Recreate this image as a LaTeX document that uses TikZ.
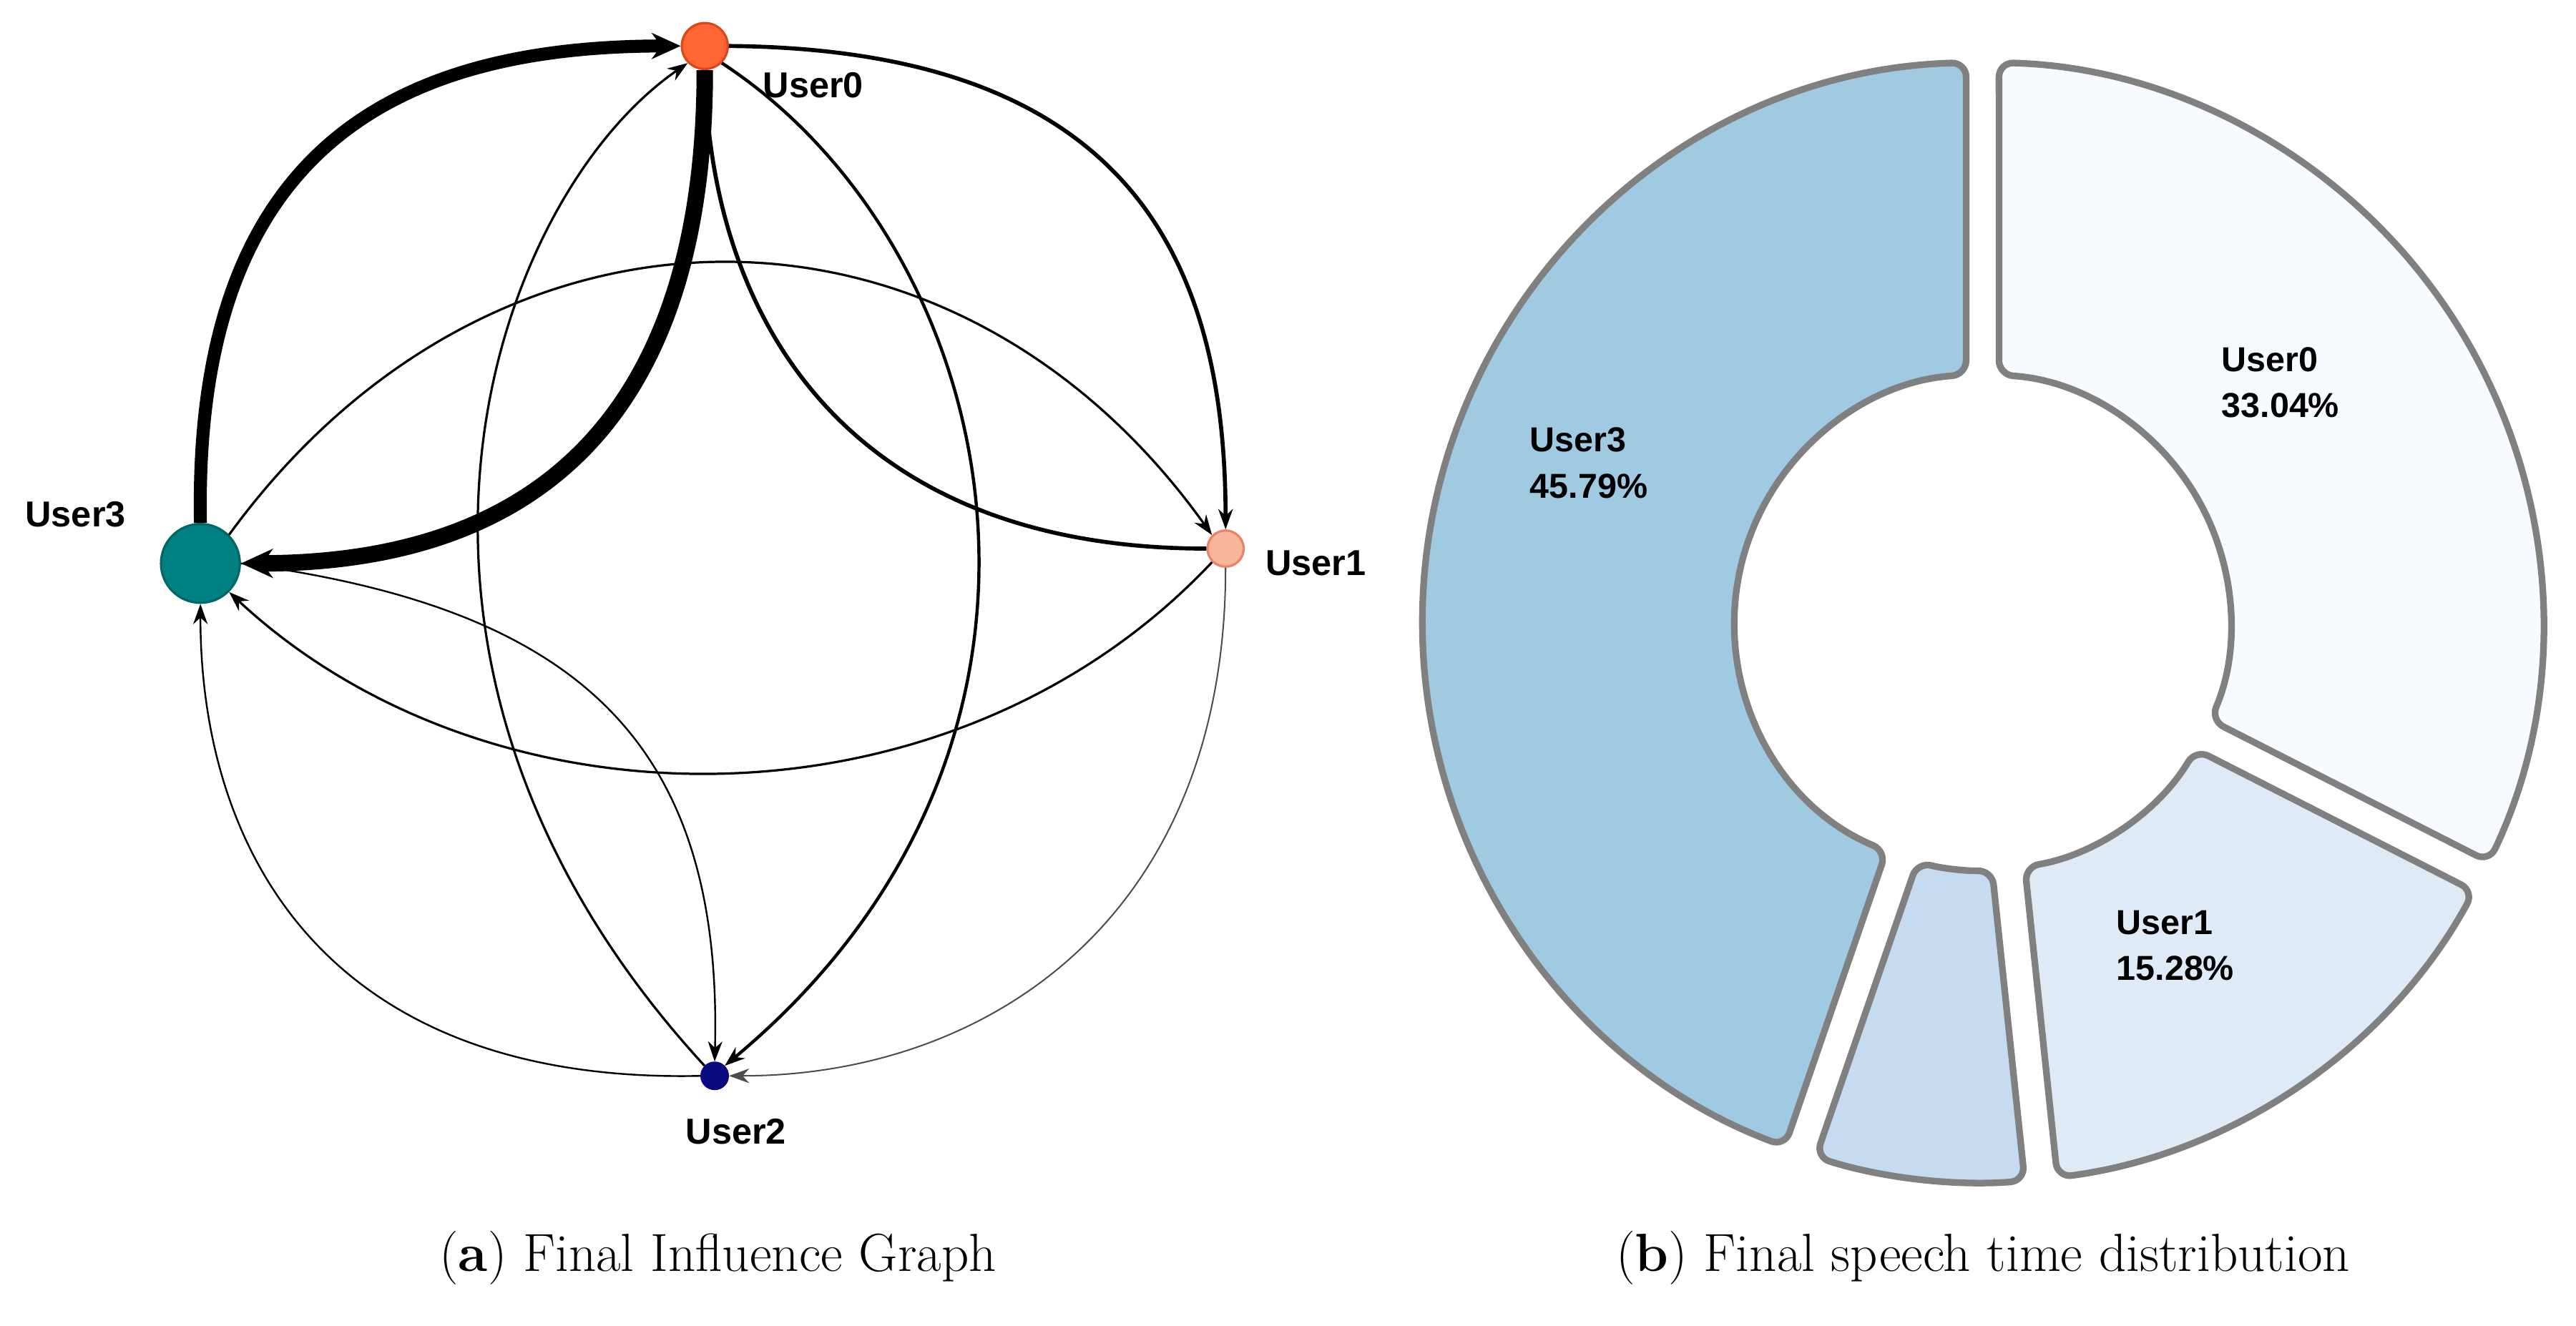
\documentclass[tikz,border=0pt]{standalone}
\usepackage{fontspec}
\newfontfamily\lab{Liberation Sans}
\usetikzlibrary{arrows.meta}
\definecolor{cU0}{HTML}{FF6633}
\definecolor{cU0d}{HTML}{D9481A}
\definecolor{cU3}{HTML}{008080}
\definecolor{cU1}{HTML}{F9B49C}
\definecolor{cU1d}{HTML}{E8826A}
\definecolor{cU2}{HTML}{0A0A80}
\definecolor{sA}{HTML}{9FCAE1}
\definecolor{sB}{HTML}{C6DBEF}
\definecolor{sC}{HTML}{DEEBF7}
\definecolor{sD}{HTML}{F7FBFF}
\newcommand\donutseg[3]{%
  \draw[line width=2.3pt, draw=black!50, fill=#3, rounded corners=5pt]
    ({#1+1.68}:341) arc[start angle={#1+1.68}, end angle={#2-1.68}, radius=341]
    -- ({#2-3.8}:151) arc[start angle={#2-3.8}, end angle={#1+3.8}, radius=151] -- cycle;}
\begin{document}
\begin{tikzpicture}[x=0.02cm,y=-0.02cm,
  vtx/.style={circle,inner sep=0pt,line width=0.8pt},
  lbl/.style={font=\lab\bfseries\fontsize{12.5}{15}\selectfont},
  dl/.style={font=\lab\bfseries\fontsize{12}{16}\selectfont,anchor=north west,align=left,inner sep=0pt},
  ed/.style={-{Stealth[length=7pt,width=5pt]},line width=#1},
  captxt/.style={font=\fontsize{18.6}{22}\selectfont}]
\useasboundingbox (0,0) rectangle (1568,807);
% nodes
\node[vtx,fill=cU0,draw=cU0d,minimum size=0.56cm] (u0) at (429,28) {};
\node[vtx,fill=cU3,draw=cU3!80!black,minimum size=0.96cm] (u3) at (122,343) {};
\node[vtx,fill=cU1,draw=cU1d,minimum size=0.44cm] (u1) at (746,334) {};
\node[vtx,fill=cU2,draw=cU2,minimum size=0.32cm] (u2) at (435,655) {};
\node[lbl] (l0) at (495,52) {User0};
\node[lbl] (l3) at (46,313) {User3};
\node[lbl] (l1) at (801,343) {User1};
\node[lbl] (l2) at (448,689) {User2};
% edges
\draw[ed=1.4pt] (u1.west) .. controls (520,334) and (435,200) .. (u0.south);
\draw[ed=0.8pt] (u3.north east) .. controls (300,105) and (580,105) .. (u1.north west);
\draw[ed=0.8pt] (u1.south west) .. controls (580,510) and (300,510) .. (u3.south east);
\draw[ed=0.8pt] (u2.north west) .. controls (200,400) and (300,120) .. (u0.south west);
\draw[ed=1.1pt] (u0.south east) .. controls (610,150) and (680,450) .. (u2.north east);
\draw[ed=0.6pt] (u3.east) .. controls (350,370) and (440,450) .. (u2.north);
\draw[ed=0.6pt] (u2.west) .. controls (200,660) and (122,520) .. (u3.south);
\draw[ed=0.5pt,draw=black!70] (u1.south) .. controls (746,560) and (600,655) .. (u2.east);
\draw[ed=1.4pt] (u0.east) .. controls (680,30) and (746,150) .. (u1.north);
\draw[-{Stealth[length=10pt,width=9pt]},line width=4.5pt] (u3.north) .. controls (118,100) and (230,28) .. (u0.west);
\draw[-{Stealth[length=11pt,width=10pt]},line width=5.7pt] (u0.south) .. controls (429,250) and (330,343) .. (u3.east);
% donut
\begin{scope}[shift={(24.14cm,-7.58cm)},x=0.02cm,y=0.02cm]
\donutseg{90}{251}{sA}
\donutseg{251}{276}{sB}
\donutseg{276}{333}{sC}
\donutseg{333}{450}{sD}
\end{scope}
\node[dl] (t3) at (931,260) {User3\\45.79\%};
\node[dl] (t0) at (1352,211) {User0\\33.04\%};
\node[dl] (t1) at (1288,554) {User1\\15.28\%};
% captions
\node[captxt] (ca) at (437,766) {(\textbf{a}) Final Influence Graph};
\node[captxt] (cb) at (1207,766) {(\textbf{b}) Final speech time distribution};
\end{tikzpicture}
\end{document}
